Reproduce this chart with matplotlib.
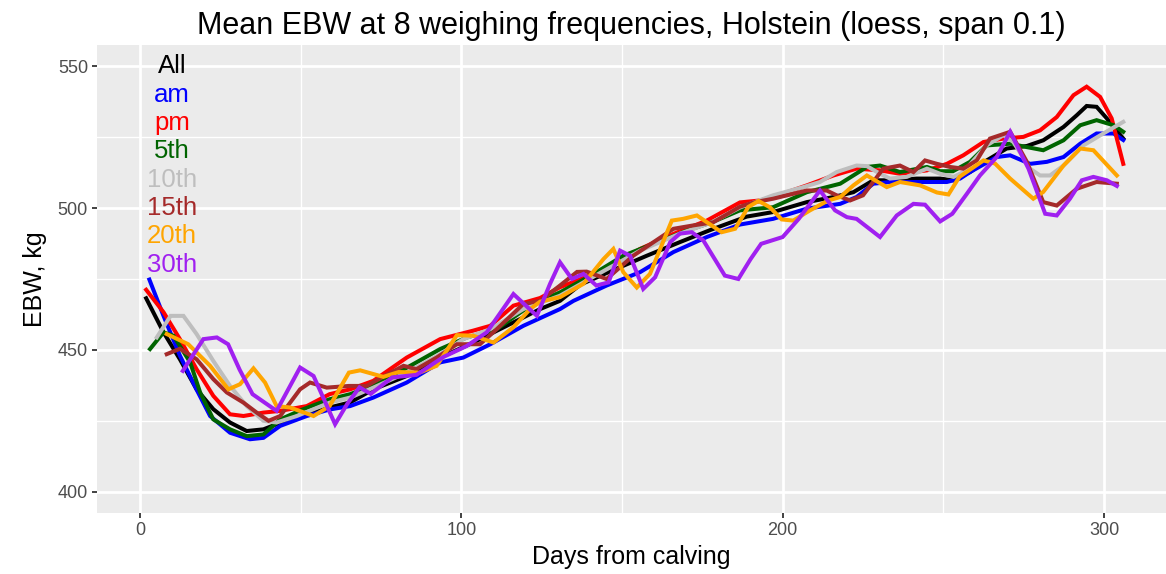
# Mean EBW at 8 weighing frequencies, Holstein
# loess smoothed curves

import matplotlib.pyplot as plt

plt.rcParams['font.family'] = ['Liberation Sans', 'DejaVu Sans']

# --- data (days from calving, EBW kg) ---
all_days = [1.9, 7.3, 12.4, 17.6, 22.8, 28, 33.2, 38.4, 42.5, 48.8, 59, 65.4, 72.6, 83, 93.4,
            103.7, 114.1, 124.5, 130.7, 137, 147, 157.7, 168, 178, 188.8, 197, 207.5, 215.8,
            222, 228.2, 234.5, 241.7, 249, 253.2, 258.3, 263.5, 269.7, 276, 281.1, 287.4,
            291.5, 294.6, 297.7, 300.9, 306]
all_ebw = [468.2, 456.2, 446.7, 436.1, 429.1, 424.4, 421.4, 422, 423.8, 426.1, 429.7, 431.5,
           436.1, 440.8, 447.3, 452.6, 458.5, 464.4, 467.3, 473, 478, 483.2, 488, 492.5, 497,
           498.6, 502.1, 503.9, 505.6, 509.8, 509.8, 510.4, 510.4, 509.8, 512.7, 516.8, 521,
           521.9, 523.9, 528.6, 532.7, 536, 535.7, 531.6, 524.5]

am_days = [2.9, 7.3, 12.4, 17.6, 21.8, 28, 34.2, 38.4, 43.6, 51.9, 59, 65.4, 72.6, 83, 93.4,
           100.6, 109, 119.3, 130.7, 134.9, 145.2, 155.6, 166, 176.4, 186.7, 197, 207.5,
           217.9, 223, 228.2, 233.4, 243.8, 251.1, 255.2, 258.3, 266.6, 270.8, 277, 282.2,
           287.4, 292.6, 297.7, 303, 306]
am_ebw = [474.8, 462, 448, 436, 426.7, 420.8, 418.5, 419, 423.2, 426.7, 429, 430.2, 433.2,
          438.5, 445.6, 447.3, 452, 458.5, 464.4, 467.3, 472.7, 477.4, 484.5, 489.8, 494.2,
          496.2, 499.8, 501.5, 503.9, 508.6, 509.2, 509.2, 509.2, 510.4, 512.7, 518, 518.6,
          515.6, 516.3, 518, 522.7, 526.3, 526.3, 524]

pm_days = [1.9, 7.3, 12.4, 17.6, 22.8, 28, 32.2, 38.4, 43.6, 51.9, 59, 65.4, 72.6, 83, 93.4,
           103.7, 109, 116.2, 124.5, 130.7, 145.2, 155.6, 166, 176.4, 186.7, 193, 197, 207.5,
           215.8, 223, 230.3, 236.5, 244.9, 251.1, 256.2, 262.5, 268.7, 274.9, 280.1, 285.3,
           290.5, 294.6, 298.8, 302.4, 306]
pm_ebw = [471.2, 463.3, 453.8, 443.2, 433.8, 427.3, 426.7, 427.9, 428.5, 430.2, 434.4, 436.1,
          439.1, 447.3, 453.8, 456.8, 458.5, 465.6, 468.3, 472.1, 478.6, 485.6, 490.9, 495.6,
          502, 502.7, 503.9, 508, 511.5, 513.9, 513.3, 512.1, 513.3, 515.6, 518.6, 523.3,
          524.5, 525.1, 527.4, 532.1, 539.8, 542.8, 539.2, 531.6, 515.6]

d5_days = [3.1, 7.3, 10.4, 15.6, 18.7, 22.8, 28, 33.2, 38.4, 43.6, 50.8, 59, 65.4, 74.7, 86,
           93.4, 101.7, 111, 121.4, 130.7, 140, 150.4, 160, 170, 178, 186.7, 197, 207.5, 217.9,
           226.2, 230.3, 236.5, 244.9, 249, 253, 258.3, 263.5, 270.8, 276, 281.1, 287.4, 292.6,
           297.7, 303, 306]
d5_ebw = [450.3, 456.2, 455, 445.6, 435, 425.5, 422, 419.6, 420.2, 425.5, 429.1, 432.6, 434.4,
          438.5, 445.6, 450.3, 454.4, 457.3, 465.6, 470.3, 476, 483.2, 487.5, 492, 495, 499.2,
          500.3, 505.6, 508.6, 514.5, 515, 512.7, 514.5, 513, 513, 516.3, 522.1, 522.7, 521.5,
          520.4, 523.9, 529.2, 531, 529.2, 526.9]

d10_days = [5.2, 9.5, 13.5, 17.6, 22.8, 28, 33.2, 38.4, 42.5, 48.8, 59, 65.4, 72.6, 83, 93.4,
            100.6, 109, 119.3, 130.7, 143, 155.6, 168, 178, 186.7, 197, 206.4, 211.6, 216.8,
            223, 226.2, 230.3, 233.4, 238.6, 244.9, 249, 253.2, 256.2, 263.5, 268.7, 271.8,
            277, 280.1, 283.2, 287.4, 293.6, 299.8, 306]
d10_ebw = [454.4, 462, 462, 455.6, 446.1, 437.3, 430.2, 425, 424.4, 426.7, 431.4, 433.2, 436.7,
           442, 448.5, 453.8, 457.3, 464.4, 469.1, 477, 485, 491, 495, 500.2, 504.5, 507.4,
           509.2, 512.7, 515, 514.8, 512.1, 510.4, 511, 513.9, 512.1, 511, 512.7, 522.1, 525.7,
           523.3, 513.9, 511.5, 511.5, 515, 522.1, 526.3, 530.4]

d15_days = [8.3, 12.4, 17.6, 22.8, 27, 32.2, 36.3, 40, 43.6, 49.8, 52.9, 58.1, 65, 70.5, 75.7,
            82, 86, 92.3, 98.6, 105.8, 111, 119.3, 124.5, 130.7, 136, 139, 145.2, 153.5, 166,
            172.2, 178.4, 186.7, 191, 197, 207.5, 213.7, 216.8, 221, 225, 231.3, 236.5, 240.7,
            244.3, 248, 252.1, 256.2, 260.4, 264.5, 270.8, 276, 281.1, 285.3, 291.5, 297.7, 304]
d15_ebw = [448.5, 450.4, 446.7, 439.7, 435, 431.4, 427.9, 425, 426.7, 436.1, 438.5, 436.7,
           437.3, 437.3, 440.6, 444.4, 443.2, 447.3, 452, 452, 457.3, 466.2, 467.3, 472.7,
           477.5, 477.6, 475, 483.2, 492.7, 493.9, 495, 500.5, 502, 503.3, 506.2, 506.2, 504.5,
           502.7, 504.5, 513.9, 515, 512.7, 516.8, 515.6, 514.5, 513.9, 516.8, 524.5, 526.9,
           516.3, 502.1, 500.9, 506.8, 509.2, 508.6]

d20_days = [8.3, 15, 21.8, 27.5, 31.1, 35.3, 38.9, 42.5, 46.7, 54, 59, 65, 68.5, 75.7, 80.5, 87,
            92.3, 98.6, 103.7, 110, 116.2, 121.4, 124.5, 130.7, 138, 144.2, 147.3, 150.4, 154.6,
            158.7, 165.5, 169, 173.3, 181, 185.2, 189.3, 192.5, 196, 199.7, 203.3, 208.5, 214.2,
            217.9, 222, 226.2, 232.4, 236.5, 242.8, 248, 251.6, 255, 262.5, 266.1, 270.8, 278,
            281.1, 287.4, 292.6, 296.7, 304]
d20_ebw = [455.6, 452, 444.4, 436.1, 437.9, 443.5, 438.5, 430.2, 429.7, 426.7, 430.2, 442,
           442.8, 440.5, 442.2, 442, 444.4, 455.2, 455, 452.6, 458, 464.4, 467, 468.6, 473.3,
           482, 485.6, 477.4, 472, 476.8, 495.6, 496.2, 497.4, 491.5, 492.7, 500.4, 502.5,
           500.3, 496, 495.6, 499.2, 502.7, 503.9, 508, 511.5, 507.4, 509.2, 508, 505.5, 504.8,
           511, 516.8, 515.7, 510.4, 503.3, 505.7, 515, 521, 520.4, 511.5]

d30_days = [13.3, 19.7, 23.9, 27.4, 31, 35, 42.5, 49.8, 54, 60.7, 64.5, 68.3, 71.8, 78.5, 86,
            94.4, 101.7, 107.9, 116.2, 123.5, 127.6, 130.7, 134.4, 138, 142, 145.8, 149.4,
            152.5, 156.6, 160.3, 165, 168, 171.7, 175.3, 182, 186.2, 190, 193.3, 200, 205,
            211.6, 216.3, 220, 223, 230.3, 235.5, 240.7, 244.3, 249, 252.8, 257.3, 261.4, 266.6,
            270.8, 276.5, 281.7, 285.3, 289.4, 293.1, 296.7, 300.9, 304]
d30_ebw = [442.6, 453.8, 454.4, 452, 443, 434.4, 428.5, 443.8, 440.8, 423.8, 431, 436.8, 434.5,
           440.3, 441.2, 447.5, 451.4, 456.2, 469.7, 462, 473.3, 480.9, 475, 476.8, 472.7,
           473.8, 485, 483.2, 471.5, 475.6, 488, 491, 491.5, 488.6, 476.2, 475, 482, 487.4,
           489.8, 496.2, 506.2, 499.2, 496.8, 496.2, 489.8, 497.4, 501.5, 501.2, 495.3, 498,
           505, 511.5, 518, 526.9, 513.9, 498, 497.4, 503.3, 509.8, 511, 509.8, 507.8]

labels = ['All', 'am', 'pm', '5th', '10th', '15th', '20th', '30th']
colors = ['black', '#0000FF', '#FF0000', '#006400', '#BEBEBE', '#A52A2A', '#FFA500', '#A020F0']
label_y = [550, 540, 530, 520, 510, 500, 490, 480]

series = [(all_days, all_ebw), (am_days, am_ebw), (pm_days, pm_ebw), (d5_days, d5_ebw),
          (d10_days, d10_ebw), (d15_days, d15_ebw), (d20_days, d20_ebw), (d30_days, d30_ebw)]

fig = plt.figure(figsize=(11.66, 5.74), dpi=100)
ax = fig.add_axes([97 / 1166, 61 / 574, 1 - 97 / 1166, (513 - 45) / 574])
ax.set_facecolor('#EBEBEB')

for (x, y), c in zip(series, colors):
    ax.plot(x, y, color=c, lw=2.9, solid_joinstyle='miter', zorder=3)

for lab, c, yy in zip(labels, colors, label_y):
    ax.text(10, yy, lab, color=c, fontsize=18.5, ha='center', va='center', zorder=4)

ax.set_xlim(-13.4, 319.3)
ax.set_ylim(392.5, 557.5)
ax.set_xticks([0, 100, 200, 300])
ax.set_yticks([400, 450, 500, 550])
ax.set_xticks([50, 150, 250], minor=True)
ax.set_yticks([425, 475, 525], minor=True)
ax.grid(which='major', color='white', lw=2.0, zorder=1)
ax.grid(which='minor', color='white', lw=1.0, zorder=1)
ax.set_axisbelow(True)
for s in ax.spines.values():
    s.set_visible(False)
ax.tick_params(which='major', length=3.5, width=1.3, color='#333333',
               labelcolor='#4D4D4D', labelsize=13, pad=3)
ax.tick_params(which='minor', length=0)

ax.set_xlabel('Days from calving', fontsize=18, labelpad=4)
ax.set_ylabel('EBW, kg', fontsize=18, labelpad=8)
ax.set_title('Mean EBW at 8 weighing frequencies, Holstein (loess, span 0.1)',
             fontsize=22, pad=8)

plt.savefig('out.png', dpi=100)
